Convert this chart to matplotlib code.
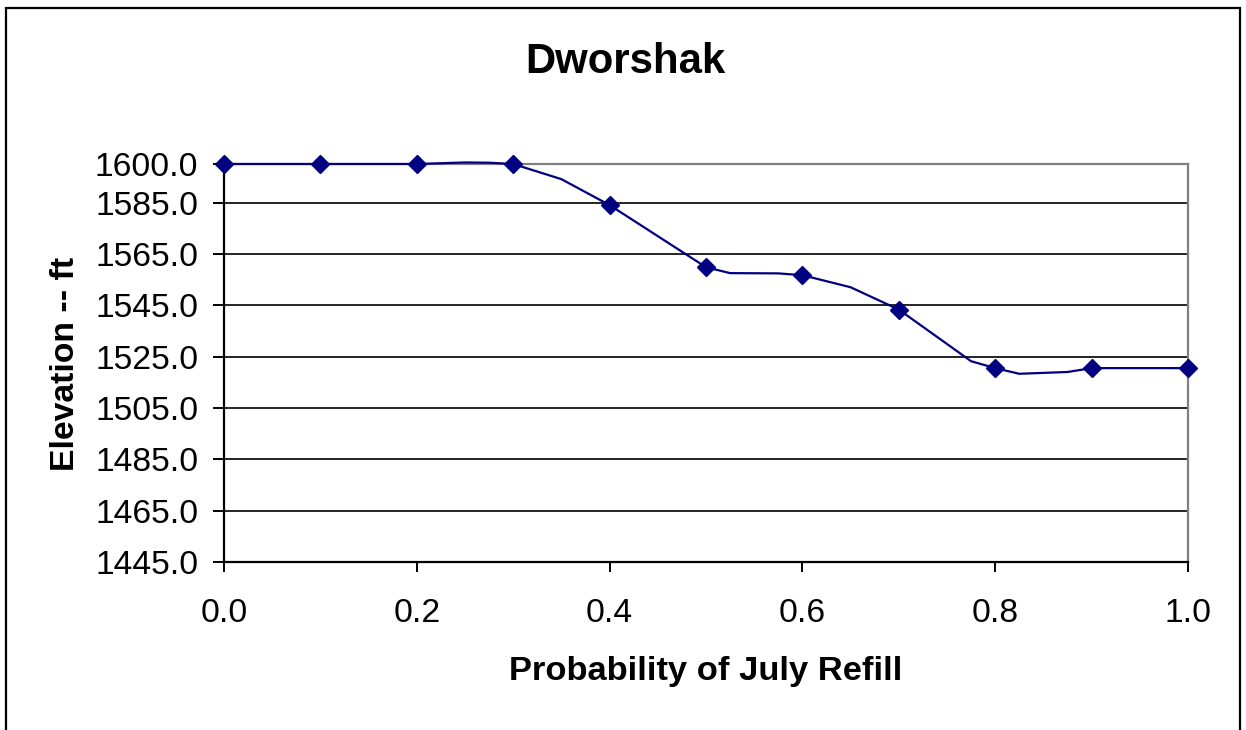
import matplotlib
matplotlib.use("Agg")
import matplotlib.pyplot as plt
from matplotlib.patches import Rectangle

# ---- data ----
title = "Dworshak"
x_label = "Probability of July Refill"
y_label = "Elevation -- ft"

line_x = [0.0, 0.1, 0.2, 0.225, 0.25, 0.275, 0.3, 0.35, 0.4, 0.5, 0.525, 0.575,
          0.6, 0.65, 0.7, 0.775, 0.8, 0.825, 0.875, 0.9, 1.0]
line_y = [1600.0, 1600.0, 1600.0, 1600.3, 1600.6, 1600.5, 1600.0, 1594.1, 1584.0,
          1559.8, 1557.5, 1557.4, 1556.7, 1552.0, 1543.3, 1523.2, 1520.5, 1518.3,
          1519.0, 1520.5, 1520.5]
marker_x = [0.0, 0.1, 0.2, 0.3, 0.4, 0.5, 0.6, 0.7, 0.8, 0.9, 1.0]

y_ticks = [1445.0, 1465.0, 1485.0, 1505.0, 1525.0, 1545.0, 1565.0, 1585.0, 1600.0]
x_ticks = [0.0, 0.2, 0.4, 0.6, 0.8, 1.0]

marker_y = [line_y[line_x.index(v)] for v in marker_x]

# ---- figure ----
plt.rcParams['font.family'] = ['Liberation Sans', 'DejaVu Sans']
W, H = 1246, 730
fig = plt.figure(figsize=(W / 100, H / 100), dpi=100)
fig.patch.set_facecolor('white')

left, right, top, bottom = 224, 1188, 164, 562
ax = fig.add_axes([left / W, 1 - bottom / H, (right - left) / W, (bottom - top) / H])

navy = '#000080'
ax.plot(line_x, line_y, color=navy, lw=1.6, zorder=3, clip_on=False)
ax.plot(marker_x, marker_y, linestyle='none', marker='D', ms=9.5, color=navy,
        mec=navy, mew=1, zorder=4, clip_on=False)

ax.set_xlim(0, 1)
ax.set_ylim(y_ticks[0], y_ticks[-1])

for v in y_ticks[1:-1]:
    ax.axhline(v, color='black', lw=1.2, zorder=1)

ax.set_yticks(y_ticks)
ax.set_yticklabels([f"{v:.1f}" for v in y_ticks])
ax.set_xticks(x_ticks)
ax.set_xticklabels([f"{v:.1f}" for v in x_ticks])

ax.tick_params(axis='y', direction='out', length=8, width=1.4, pad=10.5,
               labelsize=24.2, colors='black')
ax.tick_params(axis='x', direction='out', length=7.5, width=1.4, pad=18.5,
               labelsize=24.2, colors='black')

for s in ['left', 'bottom']:
    ax.spines[s].set_color('black')
    ax.spines[s].set_linewidth(1.6)
for s in ['top', 'right']:
    ax.spines[s].set_color('#808080')
    ax.spines[s].set_linewidth(1.6)

# titles / labels
fig.text(625.8 / W, 1 - 73.3 / H, title, ha='center', va='baseline',
         fontsize=30.2, fontweight='bold')
fig.text(706 / W, 1 - 680 / H, x_label, ha='center', va='baseline',
         fontsize=24.8, fontweight='bold')
fig.text(74 / W, 1 - 363.5 / H, y_label, ha='center', va='baseline',
         rotation=90, rotation_mode='anchor', fontsize=24.3, fontweight='bold')

# outer chart border
x0, x1 = 6 / W, 1239.5 / W
y1 = 1 - 7.7 / H
y0 = -0.05
fig.add_artist(Rectangle((x0, y0), x1 - x0, y1 - y0, transform=fig.transFigure,
                         fill=False, ec='black', lw=1.6, clip_on=False))

fig.savefig('out.png', dpi=100)
